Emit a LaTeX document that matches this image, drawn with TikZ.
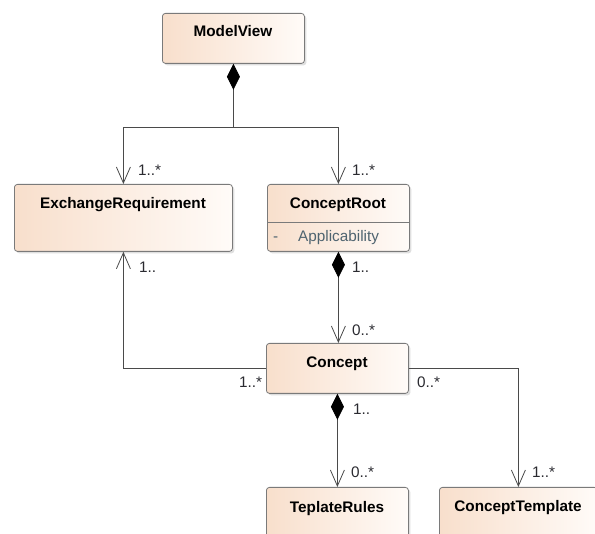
\documentclass[tikz,border=0pt]{standalone}
\usepackage{fontspec}
\setmainfont{Liberation Sans}
\usetikzlibrary{arrows.meta,shadows}
\definecolor{peach}{HTML}{F8DFCC}
\definecolor{paleend}{HTML}{FFFBF8}
\definecolor{boxline}{HTML}{7A7A7A}
\definecolor{conn}{HTML}{4A4A4A}
\definecolor{attr}{HTML}{4F6470}
\definecolor{multc}{HTML}{2A2A30}
\begin{document}
\begin{tikzpicture}[x=1pt,y=-1pt,
  font=\fontsize{15.3}{18}\selectfont,
  umlbox/.style={draw=boxline, line width=0.8pt, rounded corners=3pt,
    left color=peach, right color=paleend, inner sep=0pt, anchor=north west,
    drop shadow={shadow xshift=2pt,shadow yshift=-2pt,opacity=0.25}},
  title/.style={font=\fontsize{15.3}{18}\selectfont\bfseries, inner sep=0pt, anchor=base},
  mult/.style={anchor=base west, inner sep=0pt, text=multc},
  assoc/.style={draw=conn, line width=0.8pt, -{Straight Barb[length=16pt,width=14pt]}},
  comp/.style={draw=conn, line width=0.8pt,
    {Diamond[length=26pt,width=13pt,fill=black,color=black]}-{Straight Barb[length=16pt,width=14pt]}},
  compstart/.style={draw=conn, line width=0.8pt,
    {Diamond[length=26pt,width=13pt,fill=black,color=black]}-}]
\clip (0,0) rectangle (595,534);
\fill[white] (0,0) rectangle (595,534);

% boxes
\node[umlbox, minimum width=142pt, minimum height=50pt] (mv) at (162,13) {};
\node[umlbox, minimum width=218pt, minimum height=67pt] (er) at (14,184) {};
\node[umlbox, minimum width=142pt, minimum height=67pt] (cr) at (267,184) {};
\node[umlbox, minimum width=142pt, minimum height=50pt] (c) at (266,343) {};
\node[umlbox, minimum width=142pt, minimum height=80pt] (tr) at (266,487) {};
\node[umlbox, minimum width=158pt, minimum height=80pt] (ct) at (439,487) {};

% titles
\node[title] (mvt) at (233,37) {ModelView};
\node[title] (ert) at (123,209) {ExchangeRequirement};
\node[title] (crt) at (338,209) {ConceptRoot};
\node[title] (ctt0) at (337,368) {Concept};
\node[title] (trt) at (337,513) {TeplateRules};
\node[title] (ctt) at (518,512) {ConceptTemplate};

% ConceptRoot attribute compartment
\draw[boxline, line width=0.8pt] (cr.west |- 0,222) -- (cr.east |- 0,222);
\node[anchor=base west, inner sep=0pt, text=attr] (dash) at (273,242) {-};
\node[anchor=base west, inner sep=0pt, text=attr] (appl) at (298,242) {Applicability};

% connectors
\coordinate (j) at (mv.south |- 0,127);
\path[compstart] (mv.south) -- (j);
\path[assoc] (j) -| (er.north);
\path[assoc] (j) -| (cr.north);
\path[comp] (cr.south) -- (cr.south |- c.north);
\path[assoc] (c.west) -| (er.south);
\path[assoc] (c.east) -| (ct.north);
\path[comp] (c.south) -- (c.south |- tr.north);

% multiplicities
\node[mult] (m1) at (138,176) {1..*};
\node[mult] (m2) at (352,176) {1..*};
\node[mult] (m3) at (139,273) {1..};
\node[mult] (m4) at (352,273) {1..};
\node[mult] (m5) at (352,336) {0..*};
\node[mult] (m6) at (239,388) {1..*};
\node[mult] (m7) at (417,388) {0..*};
\node[mult] (m8) at (353,415) {1..};
\node[mult] (m9) at (351,478) {0..*};
\node[mult] (m10) at (532,478) {1..*};
\end{tikzpicture}
\end{document}
